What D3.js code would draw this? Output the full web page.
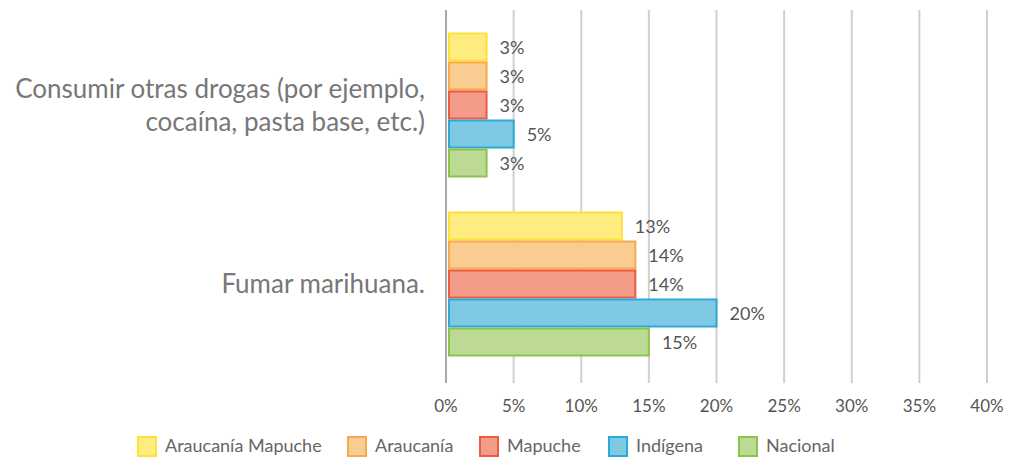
<!DOCTYPE html>
<meta charset="utf-8">
<title>Consumo de drogas</title>
<style>
  body { margin: 0; background: #fff; }
  text { font-family: Lato, "Open Sans", sans-serif; }
</style>
<body>
<script src="https://d3js.org/d3.v7.min.js"></script>
<script>

var width = 1021,
    height = 458;

// data
var categories = ["Consumir otras drogas (por ejemplo,|cocaína, pasta base, etc.)", "Fumar marihuana."];
var series = ["Araucanía Mapuche", "Araucanía", "Mapuche", "Indígena", "Nacional"];
var values = [
  [3, 3, 3, 5, 3],
  [13, 14, 14, 20, 15]
];
var ticks = [0, 5, 10, 15, 20, 25, 30, 35, 40];

var fills   = ["#feec80", "#f9cc92", "#f39c87", "#7ecae4", "#bcda93"];
var strokes = ["#fde235", "#f7a94c", "#ec5c42", "#2ea8d6", "#8cc34b"];

var svg = d3.select("body").append("svg")
    .attr("width", width)
    .attr("height", height);

var x = d3.scaleLinear().domain([0, 40]).range([446, 987]);

var y0 = d3.scaleBand().domain(categories)
    .range([15.5, 373.5])
    .paddingInner(34 / 179)
    .paddingOuter(17 / 179);

var y1 = d3.scaleBand().domain(series).range([0, y0.bandwidth()]);

// grid lines
svg.append("g").selectAll("line")
    .data(ticks.slice(1))
  .enter().append("line")
    .attr("x1", d => x(d)).attr("x2", d => x(d))
    .attr("y1", 10).attr("y2", 383)
    .style("stroke", "#d0d0d0")
    .style("stroke-width", 2);

// axis line
svg.append("line")
    .attr("x1", x(0)).attr("x2", x(0))
    .attr("y1", 10).attr("y2", 383)
    .style("stroke", "#a8a8a8")
    .style("stroke-width", 2);

// tick labels
svg.append("g").selectAll("text")
    .data(ticks)
  .enter().append("text")
    .attr("x", d => x(d))
    .attr("y", 412)
    .attr("text-anchor", "middle")
    .style("font-size", "17px")
    .style("fill", "#555")
    .text(d => d + "%");

// bars
var groups = svg.selectAll(".group")
    .data(categories)
  .enter().append("g")
    .attr("class", "group")
    .attr("transform", d => "translate(0," + y0(d) + ")");

groups.selectAll("rect")
    .data((d, i) => values[i].map((v, j) => ({ s: series[j], v: v, j: j })))
  .enter().append("rect")
    .attr("x", x(0) + 3)
    .attr("y", d => y1(d.s) + 1)
    .attr("width", d => x(d.v) - x(0) - 3)
    .attr("height", y1.bandwidth() - 2)
    .style("fill", d => fills[d.j])
    .style("stroke", d => strokes[d.j])
    .style("stroke-width", 2);

groups.selectAll(".val")
    .data((d, i) => values[i].map((v, j) => ({ s: series[j], v: v })))
  .enter().append("text")
    .attr("class", "val")
    .attr("x", d => x(d.v) + 13)
    .attr("y", d => y1(d.s) + y1.bandwidth() / 2 + 7)
    .style("font-size", "18px")
    .style("fill", "#555")
    .text(d => d.v + "%");

// category labels
svg.selectAll(".cat")
    .data(categories)
  .enter().append("text")
    .attr("class", "cat")
    .attr("text-anchor", "end")
    .attr("x", 425)
    .attr("y", d => y0(d) + y0.bandwidth() / 2)
    .style("font-size", "26px")
    .style("fill", "#777")
    .each(function(d) {
      var lines = d.split("|");
      var t = d3.select(this);
      lines.forEach(function(l, i) {
        t.append("tspan")
          .attr("x", 425)
          .attr("dy", i == 0 ? (9 - (lines.length - 1) * 16.5) : 33)
          .text(l);
      });
    });

// legend
var legendX = [137, 347, 479, 608, 738];
var legend = svg.selectAll(".legend")
    .data(series)
  .enter().append("g")
    .attr("class", "legend")
    .attr("transform", (d, i) => "translate(" + legendX[i] + ",436)");

legend.append("rect")
    .attr("x", 1).attr("y", 1)
    .attr("width", 18).attr("height", 19)
    .style("fill", (d, i) => fills[i])
    .style("stroke", (d, i) => strokes[i])
    .style("stroke-width", 2);

legend.append("text")
    .attr("x", 28)
    .attr("y", 16)
    .style("font-size", "18px")
    .style("fill", "#666")
    .text(d => d);

</script>
